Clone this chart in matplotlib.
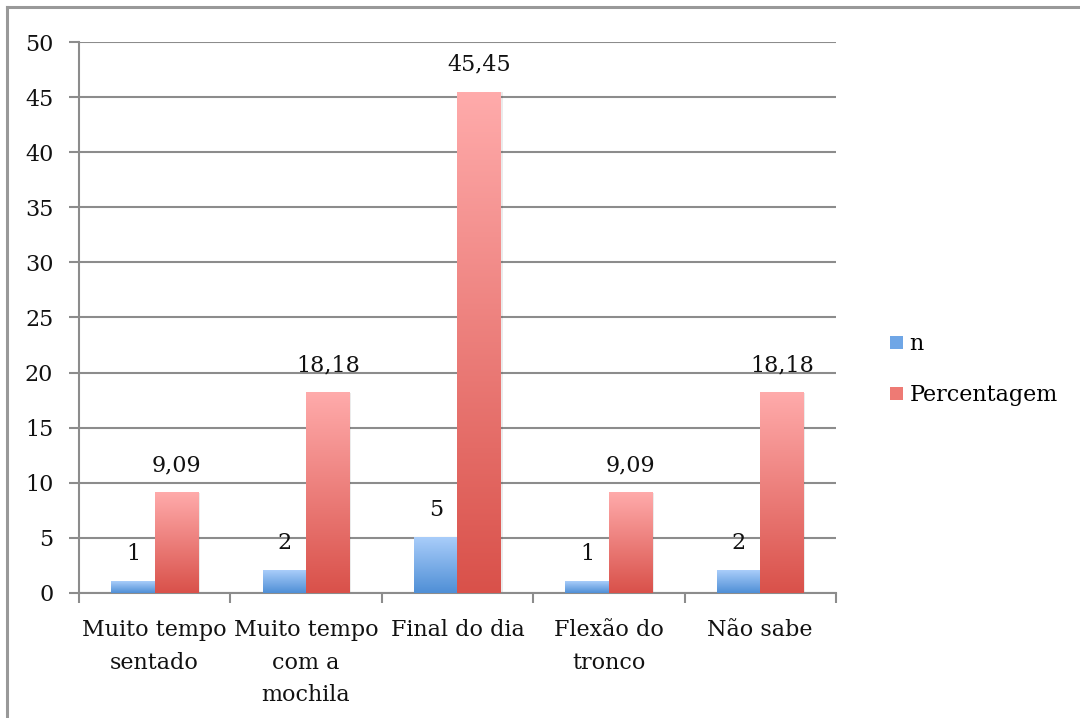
import numpy as np
import matplotlib
matplotlib.use("Agg")
import matplotlib.pyplot as plt
from matplotlib.colors import LinearSegmentedColormap
from matplotlib.patches import Rectangle
from matplotlib.lines import Line2D

categories = ["Muito tempo\nsentado", "Muito tempo\ncom a\nmochila", "Final do dia",
              "Flexão do\ntronco", "Não sabe"]
n_values = [1, 2, 5, 1, 2]
pct_values = [9.09, 18.18, 45.45, 9.09, 18.18]
series_names = ["n", "Percentagem"]
y_ticks = [0, 5, 10, 15, 20, 25, 30, 35, 40, 45, 50]

plt.rcParams["font.family"] = ["DejaVu Serif"]
FS = 16
GRID = "#8c8c8c"
TEXT = "#111111"

blue_cmap = LinearSegmentedColormap.from_list("blue", ["#a9cdfa", "#4f8fd6"])
red_cmap = LinearSegmentedColormap.from_list("red", ["#ffabab", "#d9514a"])

fig = plt.figure(figsize=(10.8, 7.18), dpi=100)
ax = fig.add_axes([0.0731, 0.1741, 0.7009, 0.7674])

x = np.arange(len(categories))
width = 0.287

def gradient_bars(xs, vals, cmap, zorder=3):
    bars = ax.bar(xs, vals, width, color="none", edgecolor="none", zorder=zorder)
    grad = np.linspace(0, 1, 256).reshape(-1, 1)
    for b in bars:
        x0, w, h = b.get_x(), b.get_width(), b.get_height()
        # soft drop shadow to the right
        ax.add_patch(Rectangle((x0 + 0.012, 0), w, h, facecolor="#000000",
                               alpha=0.08, edgecolor="none", zorder=zorder - 0.5))
        ax.imshow(grad, cmap=cmap, extent=[x0, x0 + w, 0, h], aspect="auto",
                  origin="upper", zorder=zorder, interpolation="bilinear")
    return bars

gradient_bars(x - width / 2, n_values, blue_cmap)
gradient_bars(x + width / 2, pct_values, red_cmap)

def fmt(v):
    if float(v).is_integer():
        return str(int(v))
    return f"{v:.2f}".replace(".", ",")

for xs, vals in ((x - width / 2, n_values), (x + width / 2, pct_values)):
    for xi, v in zip(xs, vals):
        ax.annotate(fmt(v), (xi, v), xytext=(0, 12), textcoords="offset points",
                    ha="center", va="bottom", fontsize=FS, color=TEXT, zorder=5)

ax.set_xlim(-0.5, len(categories) - 0.5)
ax.set_ylim(0, 50)
ax.set_yticks(y_ticks)
ax.set_yticklabels([str(t) for t in y_ticks], fontsize=FS, color=TEXT)
ax.yaxis.grid(True, color=GRID, linewidth=1.5, zorder=0)
ax.set_axisbelow(True)

ax.set_xticks(np.arange(len(categories) + 1) - 0.5)
ax.set_xticklabels([])
ax.set_xticks(x, minor=True)
ax.set_xticklabels(categories, minor=True, fontsize=FS, color=TEXT,
                   linespacing=1.62, va="top")
ax.tick_params(axis="x", which="minor", length=0, pad=19)
ax.tick_params(axis="x", which="major", length=7, width=1.5, color=GRID, direction="out")
ax.tick_params(axis="y", length=7, width=1.5, color=GRID, direction="out", pad=11.5)

for s in ("top", "right"):
    ax.spines[s].set_visible(False)
for s in ("left", "bottom"):
    ax.spines[s].set_color(GRID)
    ax.spines[s].set_linewidth(1.5)

handles = [Rectangle((0, 0), 1, 1, facecolor="#6fa6e6", edgecolor="none"),
           Rectangle((0, 0), 1, 1, facecolor="#ee7a74", edgecolor="none")]
fig.legend(handles, series_names, loc="center left", bbox_to_anchor=(0.806, 0.485),
           frameon=False, fontsize=FS, handlelength=0.55, handleheight=0.55,
           handletextpad=0.3, labelspacing=1.3)

# outer frame along the top and left edges
fig.add_artist(Line2D([0.0065, 1.0], [0.9903, 0.9903], color="#999999", linewidth=2.2,
                      transform=fig.transFigure))
fig.add_artist(Line2D([0.0065, 0.0065], [0.0, 0.9903], color="#999999", linewidth=2.2,
                      transform=fig.transFigure))

fig.savefig("out.png", dpi=100, facecolor="white")
